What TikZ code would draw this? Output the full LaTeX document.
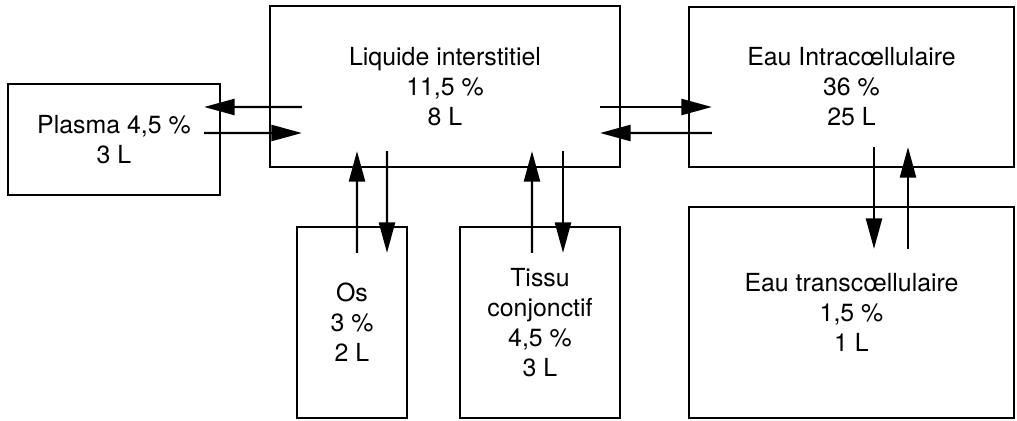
\documentclass[tikz,border=0pt]{standalone}
\usepackage{fontspec}
\setmainfont{TeX Gyre Heros}
\usepackage{tikz}
\usetikzlibrary{arrows.meta,positioning,calc}

\begin{document}
\begin{tikzpicture}[
	block/.style={draw=black, line width=1.6pt, align=center, inner sep=0pt, font=\fontsize{17.7}{21.3}\selectfont},
	arr/.style={-{Triangle[length=7.6mm,width=4mm]}, line width=1.6pt}
	]
	\useasboundingbox (0,0) rectangle (25.425,-10.5);
	\node[block, minimum width=5.3cm, minimum height=2.775cm] (plasma) at (2.85,-3.4875) {Plasma 4,5 \%\\3 L};
	\node[block, minimum width=8.75cm, minimum height=4.025cm] (liq) at (11.125,-2.1625) {Liquide interstitiel\\11,5 \%\\8 L};
	\node[block, minimum width=8.125cm, minimum height=4cm] (intra) at (21.2875,-2.175) {Eau Intracœllulaire\\36 \%\\25 L};
	\node[block, minimum width=8.125cm, minimum height=5.275cm] (trans) at (21.2875,-7.8125) {Eau transcœllulaire\\1,5 \%\\1 L};
	\node[block, minimum width=2.75cm, minimum height=4.775cm] (os) at (8.8,-8.0625) {Os\\3 \%\\2 L};
	\node[block, minimum width=4cm, minimum height=4.775cm] (tissu) at (13.5,-8.0625) {Tissu\\conjonctif\\4,5 \%\\3 L};
	% plasma <-> liquide
	\draw[arr] ($(liq.west)+(0.825,-0.5125)$) -- ($(plasma.east)+(-0.425,0.8125)$);
	\draw[arr] ($(plasma.east)+(-0.425,0.1625)$) -- ($(liq.west)+(0.825,-1.1625)$);
	% liquide <-> intra
	\draw[arr] ($(liq.east)+(-0.525,-0.5125)$) -- ($(intra.west)+(0.6,-0.5)$);
	\draw[arr] ($(intra.west)+(0.6,-1.15)$) -- ($(liq.east)+(-0.525,-1.1625)$);
	% os, tissu
	\draw[arr] ($(os.north)+(0.125,-0.675)$) -- ($(liq.south)+(-2.2,0.425)$);
	\draw[arr] ($(liq.south)+(-1.45,0.425)$) -- ($(os.north)+(0.875,-0.675)$);
	\draw[arr] ($(tissu.north)+(-0.2,-0.675)$) -- ($(liq.south)+(2.175,0.425)$);
	\draw[arr] ($(liq.south)+(2.95,0.425)$) -- ($(tissu.north)+(0.575,-0.675)$);
	% intra <-> trans
	\draw[arr] ($(intra.south)+(0.5625,0.525)$) -- ($(trans.north)+(0.5625,-1.075)$);
	\draw[arr] ($(trans.north)+(1.4125,-1.075)$) -- ($(intra.south)+(1.4125,0.525)$);
\end{tikzpicture}
\end{document}
